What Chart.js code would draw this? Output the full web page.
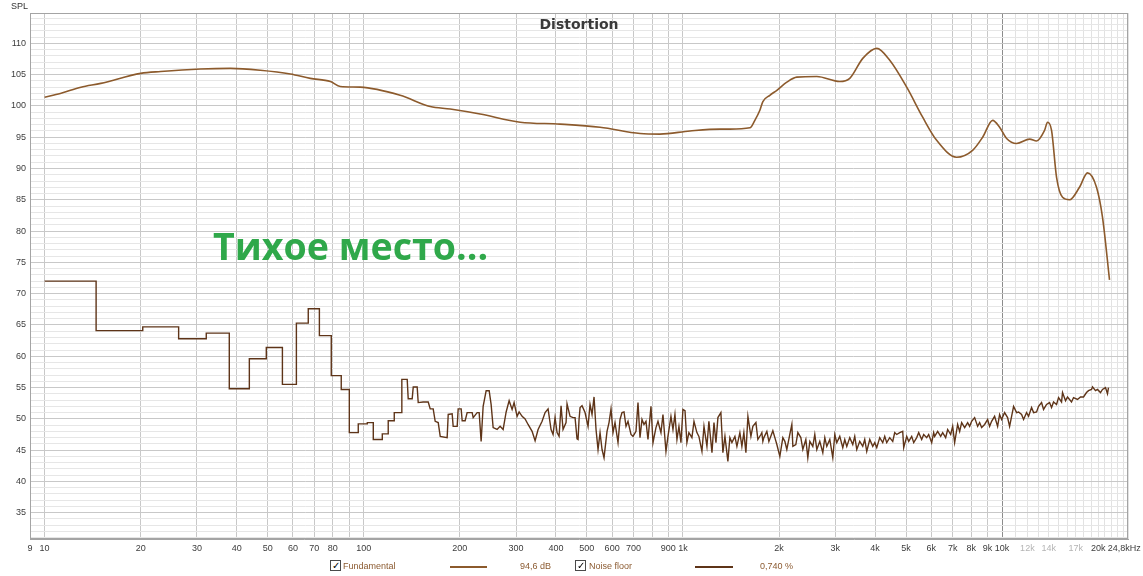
<!DOCTYPE html>
<html>
<head>
<meta charset="utf-8">
<script src="https://cdn.jsdelivr.net/npm/chart.js@4.4.0/dist/chart.umd.min.js"></script>
<style>
    body { margin: 0; background: #fff; }
    #wrap { position: relative; width: 1143px; height: 576px; overflow: hidden; font-family: "Liberation Sans", Arial, sans-serif; }
    #myChart { position: absolute; left: 0; top: 0; }
    .txt { position: absolute; white-space: nowrap; line-height: 1; }
    .box { position: absolute; width: 9px; height: 9px; border: 1px solid #4a4a4a; background: #fff; font-size: 10px; line-height: 9px; text-align: center; color: #000; }
    .swatch { position: absolute; height: 1.5px; }
</style>
</head>
<body>
<div id="wrap">
    <canvas id="myChart" width="1143" height="576"></canvas>
    <div class="txt" style="left:11px;top:2px;font-size:9px;color:#333;">SPL</div>
    <div class="txt" style="left:0;width:1158px;text-align:center;top:16px;font:bold 14px 'DejaVu Sans';color:#3a3a3a;">Distortion</div>
    <div class="txt" style="left:213px;top:220px;font:bold 37.6px 'Open Sans';color:#2fa84a;">Тихое место...</div>

    <div class="box" style="left:330px;top:560px;">✓</div>
    <div class="txt" style="left:343px;top:562px;font-size:9px;color:#8b5a30;">Fundamental</div>
    <div class="swatch" style="left:450px;top:566px;width:37px;background:#8c5a2c;"></div>
    <div class="txt" style="left:520px;top:562px;font-size:9px;color:#8b5a30;">94,6 dB</div>
    <div class="box" style="left:575px;top:560px;">✓</div>
    <div class="txt" style="left:589px;top:562px;font-size:9px;color:#8b5a30;">Noise floor</div>
    <div class="swatch" style="left:695px;top:566px;width:38px;background:#5e3418;"></div>
    <div class="txt" style="left:760px;top:562px;font-size:9px;color:#8b5a30;">0,740 %</div>
</div>
<script>
// fundamental level, Hz / dB SPL
const fundFreq = [10, 11.2, 13, 15, 20, 23.1, 30.8, 38.2, 47.4, 58.9,
    68, 78.6, 84.4, 97.5, 130, 161.5, 186.6, 231.5, 309, 412,
    550, 734, 847, 1052, 1306, 1403, 1621, 1680, 1742, 1780,
    1872, 1969, 2116, 2274, 2627, 3100, 3332, 3660, 4048, 4446,
    5025, 5638, 6237, 7203, 8083, 8690, 9340, 9821, 10330, 11100,
    12200, 12823, 13583, 13880, 14287, 14812, 15466, 16267, 17478, 18515,
    19760, 20635, 21705];
const fundDb = [101.4, 102.0, 103.0, 103.6, 105.2, 105.5, 105.9, 106.0, 105.7, 105.1,
    104.4, 103.9, 103.1, 103.0, 101.7, 99.9, 99.5, 98.7, 97.4, 97.1,
    96.6, 95.6, 95.5, 96.0, 96.3, 96.3, 96.5, 97.7, 99.3, 100.7,
    101.7, 102.5, 103.8, 104.6, 104.7, 103.9, 104.4, 107.6, 109.2, 107.3,
    103.0, 98.2, 94.5, 91.8, 92.9, 95.0, 97.7, 96.6, 94.8, 94.0,
    94.7, 94.4, 96.1, 97.4, 96.1, 88.6, 85.4, 85.0, 87.0, 89.3,
    87.0, 82.2, 72.2];

// noise floor, Hz / dB SPL
const noiseFreq = [
    10, 14.5, 14.5, 20.3, 20.3, 26.3, 26.3, 32.1, 32.1, 37.9,
    37.9, 43.8, 43.8, 49.5, 49.5, 55.6, 55.6, 61.5, 61.5, 67,
    67, 72.6, 72.6, 79.1, 79.1, 85, 85, 90.1, 90.1, 96.1,
    96.1, 102.6, 102.6, 107.1, 107.1, 114.3, 114.3, 119.3, 119.3, 124.6,
    124.6, 131.1, 131.6, 136.8, 137.8, 141.8, 142.9, 147, 148.1, 153.5,
    159.2, 161.5, 165, 167.4, 171.1, 173.6, 182.5, 183.9, 189.2, 190.6,
    196.2, 197.6, 201.9, 203.4, 207.8, 210.8, 218.6, 220.2, 226.6, 229.9,
    233.2, 236.6, 241.8, 247.1, 250.6, 254.3, 261.7, 267.4, 273.3, 279.3,
    285.4, 291.6, 295.8, 302.3, 306.7, 313.4, 320.2, 327.2, 336.8, 344.2,
    351.7, 362, 369.9, 378, 386.2, 391.8, 397.5, 403.3, 409.2, 415.1,
    421.1, 430.3, 433.4, 442.9, 452.6, 459.2, 465.8, 469.2, 472.6, 476.1,
    482.9, 493.5, 504.3, 511.6, 519, 526.6, 534.2, 542, 549.9, 557.9,
    565.9, 578.3, 586.7, 595.2, 603.8, 612.6, 626, 635.1, 644.3, 653.7,
    663.2, 672.8, 687.5, 697.5, 712.7, 723.1, 733.6, 744.2, 755, 766,
    777.1, 794.1, 805.7, 823.2, 835.2, 853.4, 865.8, 884.8, 897.6, 917.2,
    930.6, 944, 957.7, 971.6, 985.7, 1000, 1015, 1029, 1044, 1067,
    1083, 1106, 1122, 1147, 1164, 1189, 1206, 1233, 1251, 1269,
    1287, 1315, 1334, 1354, 1383, 1403, 1424, 1455, 1476, 1508,
    1530, 1552, 1575, 1598, 1633, 1656, 1693, 1717, 1755, 1767,
    1780, 1793, 1832, 1859, 1913, 1941, 1969, 2012, 2056, 2086,
    2116, 2162, 2194, 2210, 2258, 2291, 2341, 2375, 2427, 2462,
    2498, 2552, 2589, 2627, 2684, 2743, 2783, 2823, 2885, 2948,
    2991, 3034, 3100, 3168, 3214, 3261, 3332, 3405, 3454, 3505,
    3581, 3659, 3712, 3766, 3849, 3933, 3990, 4048, 4136, 4227,
    4288, 4350, 4445, 4543, 4608, 4675, 4778, 4882, 4917, 5025,
    5098, 5209, 5285, 5400, 5479, 5598, 5680, 5804, 5888, 6017,
    6104, 6148, 6282, 6420, 6513, 6655, 6752, 6900, 7000, 7101,
    7256, 7362, 7469, 7632, 7799, 7912, 8027, 8202, 8381, 8503,
    8627, 8815, 9008, 9139, 9271, 9474, 9681, 9821, 9964, 10182,
    10404, 10555, 10709, 10864, 11101, 11263, 11509, 11676, 11931, 12104,
    12369, 12549, 12823, 13009, 13293, 13486, 13781, 14082, 14286, 14494,
    14810, 15026, 15354, 15465, 15803, 16032, 16501, 16741, 17230, 17606,
    17992, 18384, 18651, 19059, 19198, 19616, 19901, 20336, 20633, 21082,
    21388, 21543];
const noiseDb = [
    72, 72, 64.1, 64.1, 64.7, 64.7, 62.8, 62.8, 63.7, 63.7,
    54.8, 54.8, 59.6, 59.6, 61.4, 61.4, 55.5, 55.5, 65.3, 65.3,
    67.6, 67.6, 63.3, 63.3, 56.9, 56.9, 54.7, 54.7, 47.8, 47.8,
    49.2, 49.2, 49.4, 49.4, 46.7, 46.7, 47.6, 47.6, 49.7, 49.7,
    51, 51, 56.3, 56.3, 53.2, 53.2, 55.1, 55.1, 52.6, 52.7,
    52.7, 51.6, 51.6, 49.6, 49.4, 47.2, 47, 50.7, 50.8, 48.8,
    48.8, 51.6, 51.6, 49.7, 49.7, 51, 51, 50.2, 51, 51,
    46.4, 52, 54.5, 54.5, 52.3, 48.6, 48.3, 48.8, 48.3, 51.1,
    52.9, 51.5, 52.6, 50.4, 51.1, 50.4, 50, 49.1, 48, 46.5,
    48.3, 49.6, 51, 51.6, 48.3, 47.5, 50.2, 47.8, 47.2, 52.1,
    48.3, 49.4, 52.4, 50.4, 50.2, 50.2, 46.8, 46.7, 49.9, 51.8,
    52.1, 51, 48.8, 52.3, 50.7, 53.5, 48.3, 45.1, 47.8, 45.1,
    43.8, 48, 49.4, 51.6, 47.8, 49.4, 46.2, 49.9, 51, 51.1,
    48.8, 49.6, 47.5, 47.2, 48, 52.6, 47, 49.9, 49.1, 49.6,
    46.7, 52, 46.2, 48.6, 49.6, 47.8, 50.7, 44.8, 47.2, 50.4,
    48.3, 50.7, 46.7, 48.8, 46.2, 51.5, 51.3, 46.2, 47.8, 47,
    49.6, 47.8, 47.2, 44.8, 48.8, 45.6, 49.6, 44.6, 49.4, 46.2,
    50.2, 51, 44.6, 47.2, 43.2, 47, 46.2, 47.2, 45.6, 47.8,
    45.6, 47.8, 44.6, 50.4, 47.2, 48.8, 49.4, 46.7, 47.5, 47.8,
    46.4, 47, 48, 46.4, 48.1, 47, 45.9, 44, 47, 46.4,
    45.1, 47.5, 49.1, 45.6, 45.9, 47.8, 47, 45.1, 46.7, 43.8,
    46.4, 45.6, 47.5, 45.1, 46.4, 44.6, 47, 45.6, 46.7, 43.8,
    47.5, 46.2, 47.2, 45.4, 46.7, 45.6, 47, 45.9, 47.2, 45.1,
    46.4, 45.6, 46.7, 44.8, 46.7, 45.6, 46.2, 45.4, 47, 46.2,
    47.2, 46.2, 47, 46.4, 47.8, 47.5, 47.8, 48, 45.4, 47.2,
    46.4, 47.2, 46.2, 47, 47.8, 46.7, 47.5, 47, 47.5, 46.2,
    47.8, 47.2, 48, 47.2, 47.8, 47, 48.3, 47.5, 48.8, 46.2,
    49.1, 48, 49.4, 48.6, 49.4, 48.8, 49.6, 50.2, 48.8, 49.4,
    48.6, 49.1, 49.9, 48.8, 49.6, 50.4, 48.8, 50.7, 49.9, 51,
    50.2, 48.8, 50.4, 52, 51, 51.1, 50.7, 49.9, 51, 50.4,
    51.8, 51, 51.1, 52, 52.6, 51.5, 52.3, 52.6, 51.8, 52.7,
    52.3, 53.4, 52.7, 54.2, 52.9, 53.5, 52.7, 53.4, 53.1, 53.5,
    53.5, 54.2, 54.5, 54.7, 55.1, 54.5, 54.7, 54.2, 54.7, 55,
    54, 55];

// axis ticks
const xTicks = [9, 10, 20, 30, 40, 50, 60, 70, 80, 90,
    100, 200, 300, 400, 500, 600, 700, 800, 900,
    1000, 2000, 3000, 4000, 5000, 6000, 7000, 8000, 9000,
    10000, 11000, 12000, 13000, 14000, 15000, 16000, 17000, 18000, 19000,
    20000, 21000, 22000, 23000, 24000, 24800];
const xTickLabels = ['9', '10', '20', '30', '40', '50', '60', '70', '80', '',
    '100', '200', '300', '400', '500', '600', '700', '', '900',
    '1k', '2k', '3k', '4k', '5k', '6k', '7k', '8k', '9k',
    '10k', '', '12k', '', '14k', '', '', '17k', '', '',
    '20k', '', '', '', '', '24,8kHz   '];
const xFaintLabels = ['12k', '14k', '17k'];
const yTickLabels = [35, 40, 45, 50, 55, 60, 65, 70, 75, 80, 85, 90, 95, 100, 105, 110];

const tickFont = {family: "'Liberation Sans', Arial, sans-serif", size: 9};

const frame = {
    id: 'frame',
    beforeDatasetsDraw(chart) {
        const a = chart.chartArea;
        const c = chart.ctx;
        c.save();
        c.strokeStyle = '#a4a4a4';
        c.lineWidth = 1;
        c.strokeRect(a.left + 0.5, a.top + 0.5, a.right - a.left - 1, a.bottom - a.top - 1);
        c.restore();
    }
};

const ctx = document.getElementById('myChart').getContext('2d');
const chart = new Chart(ctx, {
    type: 'line',
    data: {
        datasets: [{
            label: 'Fundamental',
            data: fundFreq.map((f, i) => ({x: f, y: fundDb[i]})),
            borderColor: '#8c5a2c',
            borderWidth: 1.6,
            pointRadius: 0,
            cubicInterpolationMode: 'monotone'
        }, {
            label: 'Noise floor',
            data: noiseFreq.map((f, i) => ({x: f, y: noiseDb[i]})),
            borderColor: '#5e3418',
            borderWidth: 1.4,
            pointRadius: 0,
            tension: 0
        }]
    },
    options: {
        responsive: false,
        animation: false,
        events: [],
        layout: {padding: {left: 0, right: 15, top: 13, bottom: 0}},
        plugins: {legend: {display: false}, tooltip: {enabled: false}},
        scales: {
            x: {
                type: 'logarithmic',
                min: 9,
                max: 24800,
                afterBuildTicks: (s) => { s.ticks = xTicks.map(v => ({value: v})); },
                afterFit: (s) => { s.height = 37; s.paddingLeft = 0; s.paddingRight = 0; },
                ticks: {
                    autoSkip: false,
                    maxRotation: 0,
                    minRotation: 0,
                    padding: 4,
                    font: tickFont,
                    color: (c) => xFaintLabels.includes(xTickLabels[c.index]) ? '#b4b4b4' : '#3c3c3c',
                    callback: (v, i) => xTickLabels[i]
                },
                grid: {
                    drawTicks: false,
                    color: (c) => {
                        const v = c.tick ? c.tick.value : 0;
                        if (v === 10000) return '#8c8c8c';
                        if (v > 10000) return '#e2e2e2';
                        return '#c8c8c8';
                    }
                },
                border: {color: '#a4a4a4'}
            },
            y: {
                min: 30.8,
                max: 114.85,
                afterBuildTicks: (s) => {
                    const t = [];
                    for (let v = 31; v <= 114; v++) t.push({value: v});
                    s.ticks = t;
                },
                afterFit: (s) => { s.width = 30; s.paddingTop = 0; s.paddingBottom = 0; },
                ticks: {
                    autoSkip: false,
                    padding: 4,
                    font: tickFont,
                    color: '#3c3c3c',
                    callback: (v) => yTickLabels.includes(v) ? String(v) : ''
                },
                grid: {
                    drawTicks: false,
                    color: (c) => (c.tick && c.tick.value % 5 === 0) ? '#c8c8c8' : '#e6e6e6'
                },
                border: {color: '#a4a4a4'}
            }
        }
    },
    plugins: [frame]
});
</script>
</body>
</html>
